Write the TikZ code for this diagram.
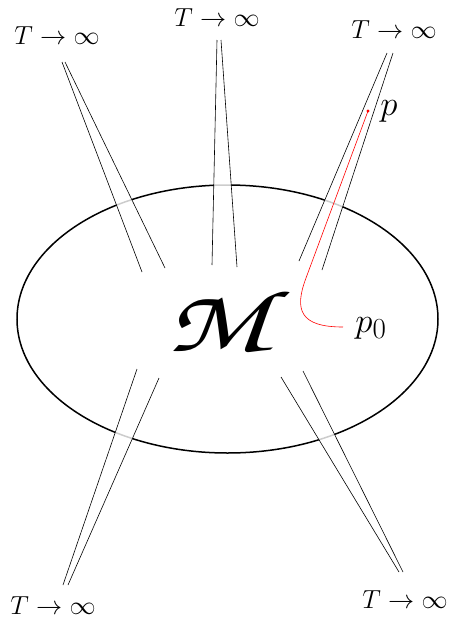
\documentclass[tikz,border=0pt]{standalone}
\begin{document}
\begin{tikzpicture}[x=1pt,y=-1pt,
  lbl/.style={font=\Huge, inner sep=0pt, scale=1.05, transform shape},
  plbl/.style={font=\Huge, inner sep=0pt, scale=1.4, transform shape},
  spike/.style={line width=0.6pt, black},
  gap/.style={fill=white, fill opacity=0.8, draw=none},
  rim/.style={line width=1.5pt, black},
  path/.style={red, line width=0.6pt}]
\useasboundingbox (0,0) rectangle (449,619);
% manifold
\draw[rim] (227.5,319) ellipse [x radius=210.5pt, y radius=134pt];
% spike end points
\coordinate (a1) at (62,62);  \coordinate (a2) at (65,62);
\coordinate (a3) at (142,272); \coordinate (a4) at (165,268);
\coordinate (b1) at (217,40); \coordinate (b2) at (221,40);
\coordinate (b3) at (212,265); \coordinate (b4) at (237,267);
\coordinate (c1) at (387,53); \coordinate (c2) at (393,53);
\coordinate (c3) at (299,261); \coordinate (c4) at (322,270);
\coordinate (d1) at (63,585); \coordinate (d2) at (68,585);
\coordinate (d3) at (137,369); \coordinate (d4) at (159,378);
\coordinate (e1) at (399,572); \coordinate (e2) at (403,572);
\coordinate (e3) at (281,377); \coordinate (e4) at (303,371);
\foreach \s in {a,b,c,d,e}{
  \fill[gap] (\s1) -- (\s3) -- (\s4) -- (\s2) -- cycle;
  \draw[spike] (\s1) -- (\s3);
  \draw[spike] (\s2) -- (\s4);
}
% labels
\node[lbl] (t1) at (57,36) {$T\to\infty$};
\node[lbl] (t2) at (217,18) {$T\to\infty$};
\node[lbl] (t3) at (394,30) {$T\to\infty$};
\node[lbl] (t4) at (53,606) {$T\to\infty$};
\node[lbl] (t5) at (405,600) {$T\to\infty$};
\node[inner sep=0pt] (M) at (218,320) {\resizebox{103pt}{64pt}{\usefont{OT1}{pzc}{m}{it}M}};
% geodesic
\coordinate (pp) at (368,111);
\coordinate (q) at (306,278);
\coordinate (pz) at (343,327);
\fill[red] (pp) circle [radius=1.6pt];
\draw[path] (pp) -- (q) .. controls (294,310) and (300,327) .. (pz);
\node[plbl] (p) at (389,111) {$p$};
\node[plbl] (p0) at (371,328) {$p_0$};
\end{tikzpicture}
\end{document}
